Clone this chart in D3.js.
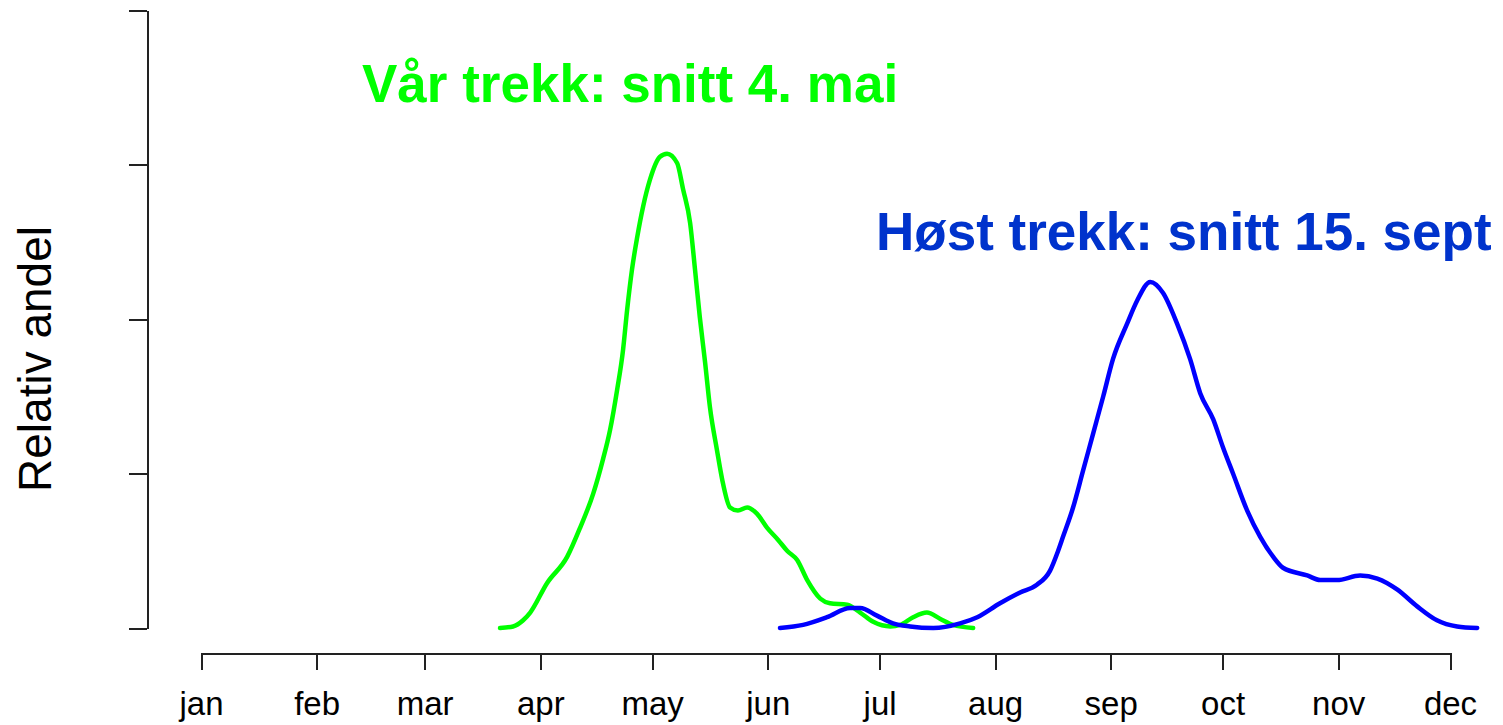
<!DOCTYPE html>
<html>
<head>
<meta charset="utf-8">
<title>Relativ andel - trekk</title>
<script src="https://cdn.jsdelivr.net/npm/d3@7"></script>
<style>
    body {
        margin: 0;
        background-color: #ffffff;
        font-family: "Liberation Sans", Arial, sans-serif;
    }
    .axis path,
    .axis line {
        stroke: #222;
        stroke-width: 2px;
        shape-rendering: crispEdges;
    }
    .axis text {
        fill: #000;
        font-family: "Liberation Sans", Arial, sans-serif;
    }
    .curve {
        fill: none;
        stroke-width: 4.5px;
        stroke-linejoin: round;
        stroke-linecap: round;
    }
</style>
</head>
<body>
<script>
    // month tick labels and day-of-year where each month starts (leap year)
    var monthLabels = ["jan", "feb", "mar", "apr", "may", "jun", "jul", "aug", "sep", "oct", "nov", "dec"];
    var monthStarts = [0, 31, 60, 91, 121, 152, 182, 213, 244, 274, 305, 335];

    // y ticks (no labels on the chart)
    var yTicks = [0, 1, 2, 3, 4];

    // spring migration (green), day of year -> relative share
    var springDays = [80.2, 83.7, 86.4, 88.3, 92.8, 98.2, 101.7, 105.2, 107.8, 109.7, 111.6, 113.2, 114.3, 115.6, 117.0, 118.6,
        120.4, 123.1, 125.0, 127.7, 129.3, 131.2, 132.5, 133.8, 135.2, 136.5, 138.4, 139.8, 141.9, 144.0, 146.5, 149.1,
        151.8, 154.8, 157.2, 159.9, 162.6, 166.1, 168.7, 173.3, 176.8, 180.3, 184.9, 187.5, 191.0, 194.7, 198.2, 201.7, 207.1];
    var springValues = [0.00, 0.01, 0.05, 0.10, 0.29, 0.46, 0.65, 0.87, 1.09, 1.28, 1.54, 1.80, 2.06, 2.32, 2.53, 2.73,
        2.90, 3.05, 3.07, 3.01, 2.84, 2.62, 2.32, 2.01, 1.72, 1.43, 1.15, 0.96, 0.78, 0.76, 0.78, 0.74,
        0.65, 0.57, 0.50, 0.44, 0.31, 0.19, 0.16, 0.15, 0.10, 0.04, 0.01, 0.02, 0.07, 0.10, 0.06, 0.02, 0.00];

    // autumn migration (blue)
    var autumnDays = [155.3, 161.5, 167.9, 174.1, 176.8, 181.3, 185.6, 190.2, 196.4, 203.6, 208.2, 214.3, 219.7, 224.2,
        227.7, 229.9, 231.2, 233.9, 236.6, 239.3, 242.0, 244.6, 248.4, 251.1, 254.6, 258.0, 261.8, 265.3, 268.0,
        271.5, 274.1, 276.8, 280.6, 284.1, 287.6, 290.2, 296.7, 300.2, 304.7, 310.9, 315.5, 320.8, 326.2, 331.5, 336.9, 342.3];
    var autumnValues = [0.00, 0.02, 0.07, 0.13, 0.13, 0.08, 0.03, 0.01, 0.00, 0.03, 0.07, 0.16, 0.23, 0.28,
        0.37, 0.50, 0.59, 0.78, 1.02, 1.26, 1.50, 1.74, 1.97, 2.12, 2.24, 2.17, 1.97, 1.74, 1.52,
        1.35, 1.17, 1.00, 0.76, 0.59, 0.46, 0.39, 0.34, 0.31, 0.31, 0.34, 0.32, 0.25, 0.14, 0.05, 0.01, 0.00];

    var springTitle = "Vår trekk: snitt 4. mai";
    var autumnTitle = "Høst trekk: snitt 15. sept";

    var width = 1503, height = 725;

    var svg = d3.select("body").append("svg")
        .attr("width", width)
        .attr("height", height);

    var x = d3.scaleLinear()
        .domain([0, 335])
        .range([201, 1450]);

    var y = d3.scaleLinear()
        .domain([0, 4])
        .range([628, 10]);

    // y axis, ticks only
    svg.append("g")
        .attr("class", "axis")
        .attr("transform", "translate(147,0)")
        .call(d3.axisLeft(y).tickValues(yTicks).tickSize(18).tickSizeOuter(0).tickFormat(""));

    // x axis, months
    var xAxis = svg.append("g")
        .attr("class", "axis")
        .attr("transform", "translate(0,653)")
        .call(d3.axisBottom(x)
            .tickValues(monthStarts)
            .tickSize(17)
            .tickSizeOuter(0)
            .tickFormat(function (d, i) { return monthLabels[i]; }));

    xAxis.selectAll("text")
        .attr("y", 62)
        .attr("dy", null)
        .style("font-size", "33px");

    // y label
    svg.append("text")
        .text("Relativ andel")
        .attr("transform", "translate(51,359) rotate(-90)")
        .attr("text-anchor", "middle")
        .style("font-size", "46px")
        .style("fill", "#000");

    var line = d3.line()
        .x(function (d) { return x(d[0]); })
        .y(function (d) { return y(d[1]); })
        .curve(d3.curveMonotoneX);

    var spring = d3.zip(springDays, springValues);
    var autumn = d3.zip(autumnDays, autumnValues);

    svg.append("path")
        .datum(spring)
        .attr("class", "curve")
        .attr("stroke", "#00ff00")
        .attr("d", line);

    svg.append("path")
        .datum(autumn)
        .attr("class", "curve")
        .attr("stroke", "#0000ff")
        .attr("d", line);

    // titles
    svg.append("text")
        .text(springTitle)
        .attr("x", 362)
        .attr("y", 102)
        .style("font-size", "53px")
        .style("font-weight", "bold")
        .style("fill", "#00ff00");

    svg.append("text")
        .text(autumnTitle)
        .attr("x", 876)
        .attr("y", 250)
        .style("font-size", "53px")
        .style("font-weight", "bold")
        .style("fill", "#0033cc");
</script>
</body>
</html>
